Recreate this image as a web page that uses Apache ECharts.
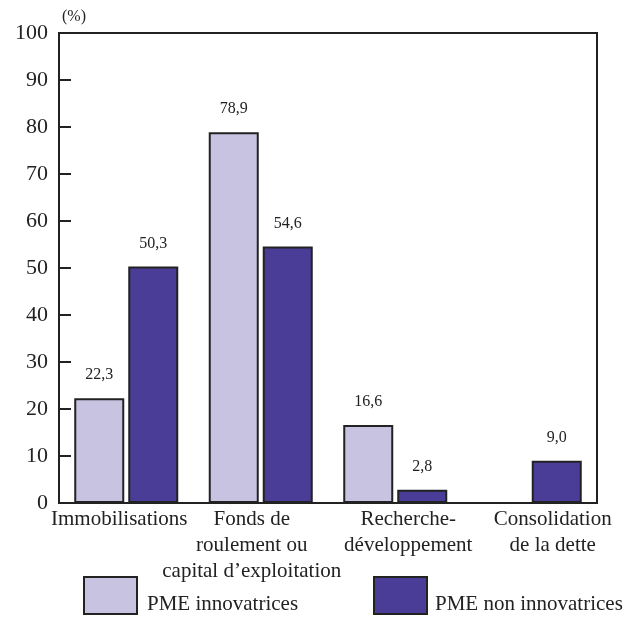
<!DOCTYPE html>
<html>
<head>
<meta charset="utf-8">
<script src="https://cdn.jsdelivr.net/npm/echarts@6/dist/echarts.min.js"></script>
<style>html,body{margin:0;padding:0;background:#fff}#c{width:627px;height:617px}</style>
</head>
<body>
<div id="c"></div>
<script>
var categories = ['Immobilisations', 'Fonds de\nroulement ou\ncapital d\u2019exploitation', 'Recherche-\nd\u00e9veloppement', 'Consolidation\nde la dette'];
var innovValues = [22.3, 78.9, 16.6, null];
var nonInnovValues = [50.3, 54.6, 2.8, 9.0];
var yTicks = [0, 10, 20, 30, 40, 50, 60, 70, 80, 90, 100];
var seriesNames = ['PME innovatrices', 'PME non innovatrices'];

var labelShift = [-7, -9, 13, 23];
var font = 'Liberation Serif, Times New Roman, serif';
var catData = categories.map(function (c, i) {
  var d = labelShift[i];
  return { value: c, textStyle: { padding: d >= 0 ? [0, 0, 0, 2 * d] : [0, -2 * d, 0, 0] } };
});
function fmt(p) { return p.value == null ? '' : p.value.toFixed(1).replace('.', ','); }
function legendText(gapLeft) {
  return {
    fontFamily: font, fontSize: 21, color: '#222',
    rich: { t: { fontFamily: font, fontSize: 21, color: '#222', padding: [17, 0, 0, gapLeft] } }
  };
}

var chart = echarts.init(document.getElementById('c'), null, { renderer: 'canvas' });
chart.setOption({
  animation: false,
  backgroundColor: '#fff',
  textStyle: { fontFamily: font },
  grid: { left: 59, right: 30, top: 33, bottom: 114, show: true, borderColor: '#222', borderWidth: 2 },
  legend: [
    { data: [seriesNames[0]], left: 83, top: 576, padding: 0, itemWidth: 53, itemHeight: 37, icon: 'rect',
      formatter: '{t|{name}}', textStyle: legendText(5) },
    { data: [seriesNames[1]], left: 373, top: 576, padding: 0, itemWidth: 53, itemHeight: 37, icon: 'rect',
      formatter: '{t|{name}}', textStyle: legendText(3) }
  ],
  xAxis: {
    type: 'category',
    data: catData,
    axisLine: { lineStyle: { color: '#222', width: 2 } },
    axisTick: { inside: true, length: 10, lineStyle: { color: '#222', width: 2 } },
    axisLabel: { fontFamily: font, fontSize: 21, color: '#222', lineHeight: 26, margin: 3, interval: 0 }
  },
  yAxis: {
    type: 'value', min: 0, max: 100, interval: 10,
    name: '(%)', nameLocation: 'end', nameGap: 8,
    nameTextStyle: { fontFamily: font, fontSize: 16, color: '#222', align: 'left', padding: [0, 0, 0, 3] },
    axisLine: { show: true, lineStyle: { color: '#222', width: 2 } },
    axisTick: { show: true, inside: true, length: 12, lineStyle: { color: '#222', width: 2 } },
    axisLabel: { fontFamily: font, fontSize: 22, color: '#222', margin: 11,
      formatter: function (v) { return yTicks.indexOf(v) >= 0 ? String(v) : ''; } },
    splitLine: { show: false }
  },
  series: [
    { name: seriesNames[0], type: 'bar', data: innovValues, barWidth: 50, barGap: '8%',
      itemStyle: { color: '#C9C3E2', borderColor: '#222', borderWidth: 2 },
      label: { show: true, position: 'top', distance: 15, fontFamily: font, fontSize: 16, color: '#222', formatter: fmt } },
    { name: seriesNames[1], type: 'bar', data: nonInnovValues, barWidth: 50, barGap: '8%',
      itemStyle: { color: '#4A3D97', borderColor: '#222', borderWidth: 2 },
      label: { show: true, position: 'top', distance: 15, fontFamily: font, fontSize: 16, color: '#222', formatter: fmt } }
  ]
});
</script>
</body>
</html>
